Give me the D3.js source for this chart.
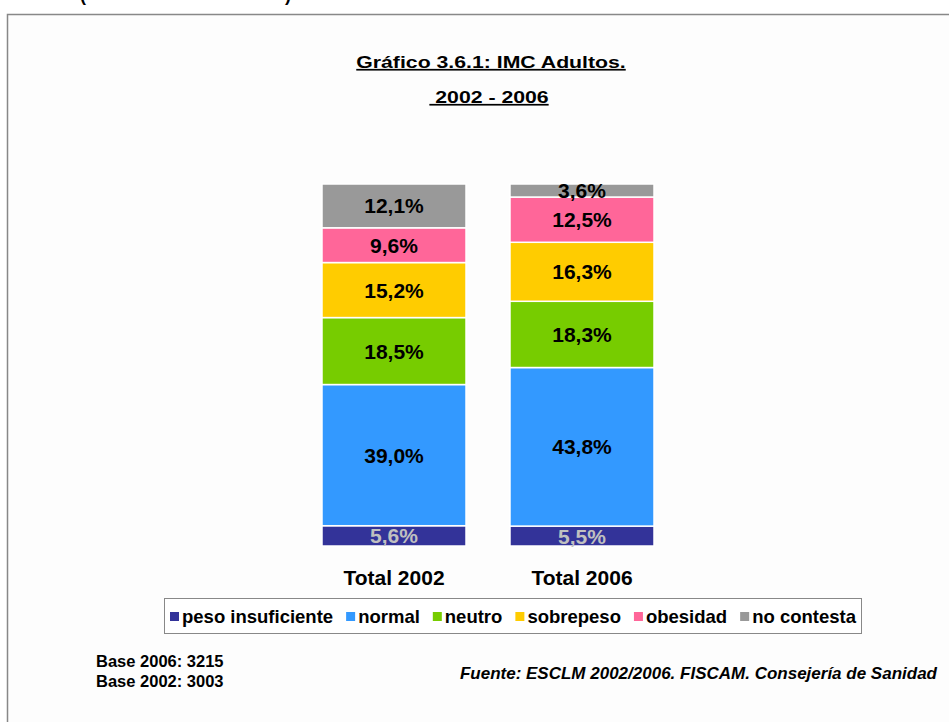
<!DOCTYPE html>
<html>
<head>
<meta charset="utf-8">
<style>
  body { margin: 0; background: #fff; }
  svg { display: block; font-family: Arial, "Liberation Sans", sans-serif; }
</style>
</head>
<body>
<div id="chart"></div>
<script src="https://d3js.org/d3.v7.min.js"></script>
<script>
// data
var groups = ["Total 2002", "Total 2006"];
var series = ["peso insuficiente", "normal", "neutro", "sobrepeso", "obesidad", "no contesta"];
var colors = ["#333399", "#3399ff", "#77cc00", "#ffcc00", "#ff6699", "#999999"];
var values2002 = [5.6, 39.0, 18.5, 15.2, 9.6, 12.1];
var values2006 = [5.5, 43.8, 18.3, 16.3, 12.5, 3.6];
var baseLines = ["Base 2006: 3215", "Base 2002: 3003"];
var source = "Fuente: ESCLM 2002/2006. FISCAM. Consejería de Sanidad";

var W = 949, H = 722;

var svg = d3.select("#chart").append("svg")
    .attr("width", W)
    .attr("height", H);

// cut off text from the page above
svg.append("text").attr("x", 80).attr("y", 1)
    .style("font-size", "18px").style("font-weight", "bold").text("(");
svg.append("text").attr("x", 285).attr("y", 1)
    .style("font-size", "18px").style("font-weight", "bold").text(")");

// chart frame
svg.append("rect")
    .attr("x", 7.5).attr("y", 14.5)
    .attr("width", W + 10).attr("height", H + 10)
    .attr("fill", "#fdfdfd")
    .attr("stroke", "#888")
    .attr("stroke-width", 1.5);

// titles (stretched horizontally like the original)
var title = svg.append("g").attr("text-anchor", "middle")
    .style("font-weight", "bold").style("text-decoration", "underline");
title.append("text")
    .attr("transform", "translate(491,68) scale(1.25,1)")
    .style("font-size", "17px")
    .text("Gráfico 3.6.1: IMC Adultos.");
title.append("text")
    .attr("transform", "translate(489,103) scale(1.25,1)")
    .style("font-size", "17px")
    .attr("xml:space", "preserve")
    .text(" 2002 - 2006");

// scales
var x = d3.scaleBand()
    .domain(groups)
    .range([300, 676])
    .paddingInner(0.234)
    .paddingOuter(0.117);

var y = d3.scaleLinear()
    .domain([0, 100])
    .range([546, 184]);

var z = d3.scaleOrdinal().domain(series).range(colors);

// build table for the stack
var table = groups.map(function(g, i) {
  var row = { group: g };
  var vals = i === 0 ? values2002 : values2006;
  series.forEach(function(s, j) { row[s] = vals[j]; });
  return row;
});

var stacked = d3.stack().keys(series)(table);

var layers = svg.append("g").selectAll("g")
    .data(stacked)
    .enter().append("g")
      .attr("fill", function(d) { return z(d.key); });

layers.selectAll("rect")
    .data(function(d) { return d; })
    .enter().append("rect")
      .attr("x", function(d) { return x(d.data.group); })
      .attr("y", function(d) { return y(d[1]); })
      .attr("height", function(d) { return y(d[0]) - y(d[1]); })
      .attr("width", x.bandwidth())
      .attr("stroke", "#fff")
      .attr("stroke-width", 1.5);

// value labels
layers.each(function(layer) {
  var first = layer.key === series[0];
  d3.select(this).selectAll("text")
    .data(layer)
    .enter().append("text")
      .attr("x", function(d) { return x(d.data.group) + x.bandwidth() / 2; })
      .attr("y", function(d) { return (y(d[0]) + y(d[1])) / 2; })
      .attr("dy", "0.36em")
      .attr("text-anchor", "middle")
      .attr("fill", first ? "#c0c0c0" : "#000")
      .style("font-size", "21px")
      .style("font-weight", "bold")
      .text(function(d) { return d3.format(".1f")(d[1] - d[0]).replace(".", ",") + "%"; });
});

// category axis
var xAxis = svg.append("g")
    .attr("transform", "translate(0,546)")
    .call(d3.axisBottom(x).tickSize(0).tickPadding(24));
xAxis.select(".domain").remove();
xAxis.selectAll("text")
    .attr("fill", "#000")
    .style("font-family", "Arial, 'Liberation Sans', sans-serif")
    .style("font-size", "21px")
    .style("font-weight", "bold");

// legend
var legend = svg.append("g");
legend.append("rect")
    .attr("x", 164.5).attr("y", 598.5)
    .attr("width", 697).attr("height", 35)
    .attr("fill", "#fff")
    .attr("stroke", "#888");

var lx = 170;
series.forEach(function(s) {
  legend.append("rect")
      .attr("x", lx).attr("y", 612)
      .attr("width", 9).attr("height", 9)
      .attr("fill", z(s));
  var t = legend.append("text")
      .attr("x", lx + 12).attr("y", 623)
      .style("font-size", "18.5px")
      .style("font-weight", "bold")
      .text(s);
  lx += 12 + t.node().getComputedTextLength() + 13;
});

// footnotes
svg.append("g").selectAll("text")
    .data(baseLines)
    .enter().append("text")
      .attr("x", 96)
      .attr("y", function(d, i) { return 667 + i * 20; })
      .style("font-size", "16.5px")
      .style("font-weight", "bold")
      .text(function(d) { return d; });

svg.append("text")
    .attr("x", 937).attr("y", 679)
    .attr("text-anchor", "end")
    .style("font-size", "17px")
    .style("font-weight", "bold")
    .style("font-style", "italic")
    .text(source);
</script>
</body>
</html>
